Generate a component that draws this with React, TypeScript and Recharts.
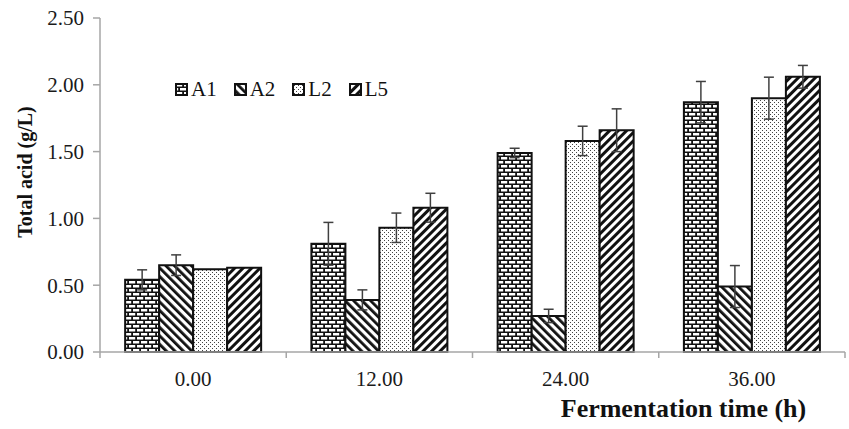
import React from 'react';
import { BarChart, Bar, XAxis, YAxis, ErrorBar, Legend } from 'recharts';

const categories = ['0.00', '12.00', '24.00', '36.00'];
const seriesNames = ['A1', 'A2', 'L2', 'L5'];
const A1 = [0.54, 0.81, 1.49, 1.87];
const A1err = [0.075, 0.16, 0.035, 0.155];
const A2 = [0.65, 0.39, 0.27, 0.49];
const A2err = [0.077, 0.075, 0.05, 0.157];
const L2 = [0.62, 0.93, 1.58, 1.9];
const L2err = [0, 0.11, 0.11, 0.157];
const L5 = [0.63, 1.08, 1.66, 2.06];
const L5err = [0, 0.108, 0.16, 0.085];
const yTicks = [0, 0.5, 1, 1.5, 2, 2.5];

const data = categories.map((c, i) => ({
  time: c,
  A1: A1[i], A1err: A1err[i],
  A2: A2[i], A2err: A2err[i],
  L2: L2[i], L2err: L2err[i],
  L5: L5[i], L5err: L5err[i],
}));

const FONT = '"Liberation Serif", "Times New Roman", serif';
const W = 849;
const H = 429;
const MARGIN = { top: 18, right: 4, bottom: 0, left: 0 };
const YW = 100;

const patternIds: Record<string, string> = { A1: 'pBrick', A2: 'pDown', L2: 'pDots', L5: 'pUp' };

const Patterns = () => (
  <defs>
    <pattern id="pBrick" patternUnits="userSpaceOnUse" width="8" height="8">
      <rect x="0" y="0" width="8" height="8" fill="#111" />
      <rect x="1" y="1" width="6.2" height="2.5" fill="#fff" />
      <rect x="-3" y="5" width="6.2" height="2.5" fill="#fff" />
      <rect x="5" y="5" width="6.2" height="2.5" fill="#fff" />
    </pattern>
    <pattern id="pDown" patternUnits="userSpaceOnUse" width="6" height="6" patternTransform="rotate(-45)">
      <rect x="0" y="0" width="6" height="6" fill="#fff" />
      <rect x="0" y="0" width="2.8" height="6" fill="#111" />
    </pattern>
    <pattern id="pUp" patternUnits="userSpaceOnUse" width="6" height="6" patternTransform="rotate(45)">
      <rect x="0" y="0" width="6" height="6" fill="#fff" />
      <rect x="0" y="0" width="3" height="6" fill="#111" />
    </pattern>
    <pattern id="pDots" patternUnits="userSpaceOnUse" width="4" height="4">
      <rect x="0" y="0" width="4" height="4" fill="#fff" />
      <rect x="0" y="0" width="1" height="1" fill="#444" />
      <rect x="2" y="2" width="1" height="1" fill="#444" />
    </pattern>
  </defs>
);

const XTick = (props: any) => {
  const { x, y, payload, index, visibleTicksCount } = props;
  const plotW = W - YW - MARGIN.left - MARGIN.right;
  const band = plotW / (visibleTicksCount || categories.length);
  const isLast = index === (visibleTicksCount || categories.length) - 1;
  return (
    <g>
      <line x1={x - band / 2} y1={y} x2={x - band / 2} y2={y + 6} stroke="#a6a6a6" strokeWidth={1.5} />
      {isLast && (
        <line x1={x + band / 2} y1={y} x2={x + band / 2} y2={y + 6} stroke="#a6a6a6" strokeWidth={1.5} />
      )}
      <text x={x} y={y + 29} textAnchor="middle" dominantBaseline="middle" fontFamily={FONT} fontSize={21} fill="#1a1a1a">
        {payload.value}
      </text>
    </g>
  );
};

const LegendContent = () => (
  <div style={{ display: 'flex', alignItems: 'center', fontFamily: FONT, fontSize: 21, color: '#111' }}>
    {seriesNames.map((n) => (
      <div key={n} style={{ display: 'flex', alignItems: 'center', marginRight: 17 }}>
        <svg width={13} height={13} style={{ marginRight: 3 }}>
          <rect x={1} y={1} width={11} height={11} fill={`url(#${patternIds[n]})`} stroke="#111" strokeWidth={2} />
        </svg>
        <span>{n}</span>
      </div>
    ))}
  </div>
);

const YLabel = (props: any) => {
  const vb = props.viewBox || { x: 0, y: MARGIN.top, width: YW, height: 334 };
  const cx = vb.x + 27;
  const cy = vb.y + vb.height / 2 - 13;
  return (
    <text
      x={cx}
      y={cy}
      transform={`rotate(-90, ${cx}, ${cy})`}
      textAnchor="middle"
      dominantBaseline="middle"
      fontFamily={FONT}
      fontSize={20}
      fontWeight="bold"
      fill="#111"
    >
      Total acid (g/L)
    </text>
  );
};

const XLabel = (props: any) => {
  const vb = props.viewBox || { x: YW, y: 352, width: 745, height: 77 };
  const cx = vb.x + vb.width / 2 + 211;
  const cy = vb.y + 59;
  return (
    <text x={cx} y={cy} textAnchor="middle" dominantBaseline="middle" fontFamily={FONT} fontSize={26} fontWeight="bold" fill="#111">
      Fermentation time (h)
    </text>
  );
};

export default function App() {
  return (
    <div style={{ position: 'absolute', left: 0, top: 0, width: W, height: H, background: '#fff' }}>
      <BarChart width={W} height={H} data={data} margin={MARGIN} barCategoryGap="13.5%" barGap={0}>
        <Patterns />
        <XAxis
          dataKey="time"
          height={H - 352}
          axisLine={{ stroke: '#a6a6a6', strokeWidth: 1.5 }}
          tickLine={false}
          tickSize={0}
          tickMargin={0}
          tick={<XTick />}
          interval={0}
          label={<XLabel />}
        />
        <YAxis
          width={YW}
          domain={[0, 2.5]}
          ticks={yTicks}
          interval={0}
          tickFormatter={(v: number) => v.toFixed(2)}
          axisLine={{ stroke: '#a6a6a6', strokeWidth: 1.5 }}
          tickLine={{ stroke: '#a6a6a6', strokeWidth: 1.5 }}
          tickSize={7}
          tickMargin={9}
          tick={{ fontFamily: FONT, fontSize: 21, fill: '#1a1a1a' }}
          label={<YLabel />}
        />
        <Legend
          layout="horizontal"
          verticalAlign="middle"
          align="center"
          content={<LegendContent />}
          wrapperStyle={{ position: 'absolute', top: 77, left: 175, width: 'auto', height: 'auto' }}
        />
        {seriesNames.map((n) => (
          <Bar key={n} dataKey={n} fill={`url(#${patternIds[n]})`} stroke="#111" strokeWidth={2} isAnimationActive={false}>
            <ErrorBar dataKey={`${n}err`} width={5} stroke="#404040" strokeWidth={1.5} direction="y" />
          </Bar>
        ))}
      </BarChart>
    </div>
  );
}
